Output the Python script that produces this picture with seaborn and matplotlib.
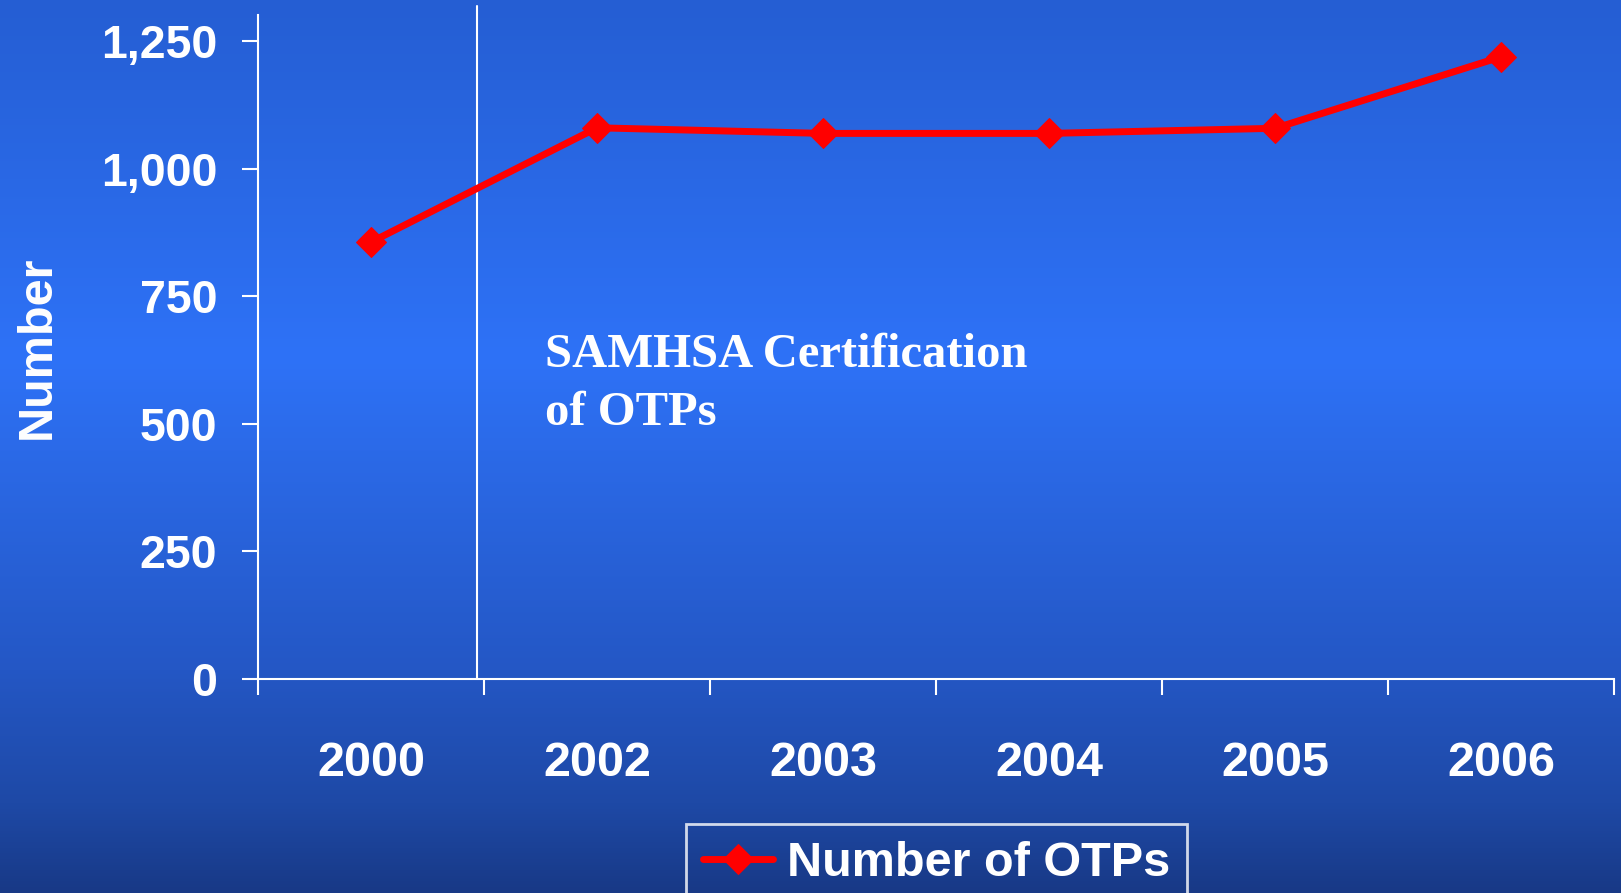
import numpy as np
import pandas as pd
import matplotlib
matplotlib.use("Agg")
import matplotlib.pyplot as plt
import seaborn as sns
from matplotlib.ticker import FuncFormatter

# ---- data ----
years = ["2000", "2002", "2003", "2004", "2005", "2006"]
otps = [856, 1080, 1069, 1069, 1079, 1219]
y_ticks = [0, 250, 500, 750, 1000, 1250]
series_name = "Number of OTPs"
y_title = "Number"
note_lines = ["SAMHSA Certification", "of OTPs"]

sns.set_theme(style="white")
plt.rcParams["font.family"] = ["Liberation Sans", "DejaVu Sans"]

W, H = 1621, 893
fig = plt.figure(figsize=(W / 100, H / 100), dpi=100)

# background vertical gradient
bg = fig.add_axes([0, 0, 1, 1], zorder=0)
stops_pos = [0.0, 0.4, 0.75, 0.9, 1.0]
stops_col = np.array([[37, 94, 211], [46, 114, 247], [36, 87, 197],
                      [30, 73, 166], [24, 57, 134]]) / 255.0
rows = np.linspace(0, 1, H)
grad = np.stack([np.interp(rows, stops_pos, stops_col[:, c]) for c in range(3)], axis=-1)
img = np.repeat(grad[:, None, :], 2, axis=1)
bg.imshow(img, aspect="auto", extent=[0, 1, 0, 1], origin="upper")
bg.axis("off")

ax = fig.add_axes([258 / W, (H - 679) / H, (1614 - 258) / W, 663.5 / H], zorder=1)
ax.patch.set_alpha(0)

df = pd.DataFrame({"Year": years, series_name: otps})
sns.lineplot(data=df, x="Year", y=series_name, ax=ax, color="#FF0000",
             linewidth=5, marker="D", markersize=15, markeredgecolor="#FF0000",
             errorbar=None, label=series_name)

ax.set_xlim(-0.5, len(years) - 0.5)
ax.set_ylim(0, 1300)
ax.set_yticks(y_ticks)
ax.yaxis.set_major_formatter(FuncFormatter(lambda v, p: f"{v:,.0f}"))
ax.set_xticks(range(len(years)))
ax.set_xticklabels(years)
ax.set_xticks(np.arange(-0.5, len(years), 1.0), minor=True)

ax.tick_params(axis="x", which="major", bottom=True, length=0, pad=45,
               labelsize=35, labelcolor="white")
ax.tick_params(axis="x", which="minor", bottom=True, length=11.5, width=1.5,
               color="white", direction="out")
ax.tick_params(axis="y", which="major", left=True, length=11.5, width=1.5,
               color="white", direction="out", pad=18, labelsize=33.5,
               labelcolor="white")
for lab in ax.get_xticklabels() + ax.get_yticklabels():
    lab.set_fontweight("bold")

for s in ["top", "right"]:
    ax.spines[s].set_visible(False)
for s in ["left", "bottom"]:
    ax.spines[s].set_color("white")
    ax.spines[s].set_linewidth(1.5)

ax.set_xlabel("")
ax.set_ylabel(y_title, fontsize=35, fontweight="bold", color="white")
ax.yaxis.set_label_coords((37.5 - 258) / 1356, 0.5)
ax.yaxis.label.set_verticalalignment("center")

# certification marker line
CERT_X = 0.469
ax.axvline(CERT_X, ymin=0, ymax=1318 / 1300, color="white", lw=1.5, clip_on=False, zorder=1)

ax.text(0.77, 611, note_lines[0], family=["Liberation Serif", "DejaVu Serif"],
        fontweight="bold", fontsize=35, color="white", va="baseline", ha="left")
ax.text(0.77, 498, note_lines[1], family=["Liberation Serif", "DejaVu Serif"],
        fontweight="bold", fontsize=35, color="white", va="baseline", ha="left")

leg = ax.legend(loc="upper center", bbox_to_anchor=(936.5 / W, (H - 824) / H),
                bbox_transform=fig.transFigure, frameon=True, fancybox=False,
                edgecolor="white", facecolor="none", borderaxespad=0,
                prop={"weight": "bold", "size": 35}, labelcolor="white",
                handlelength=1.44, handletextpad=0.29, borderpad=0.35)
leg.get_frame().set_linewidth(2)

fig.savefig("out.png", dpi=100)
